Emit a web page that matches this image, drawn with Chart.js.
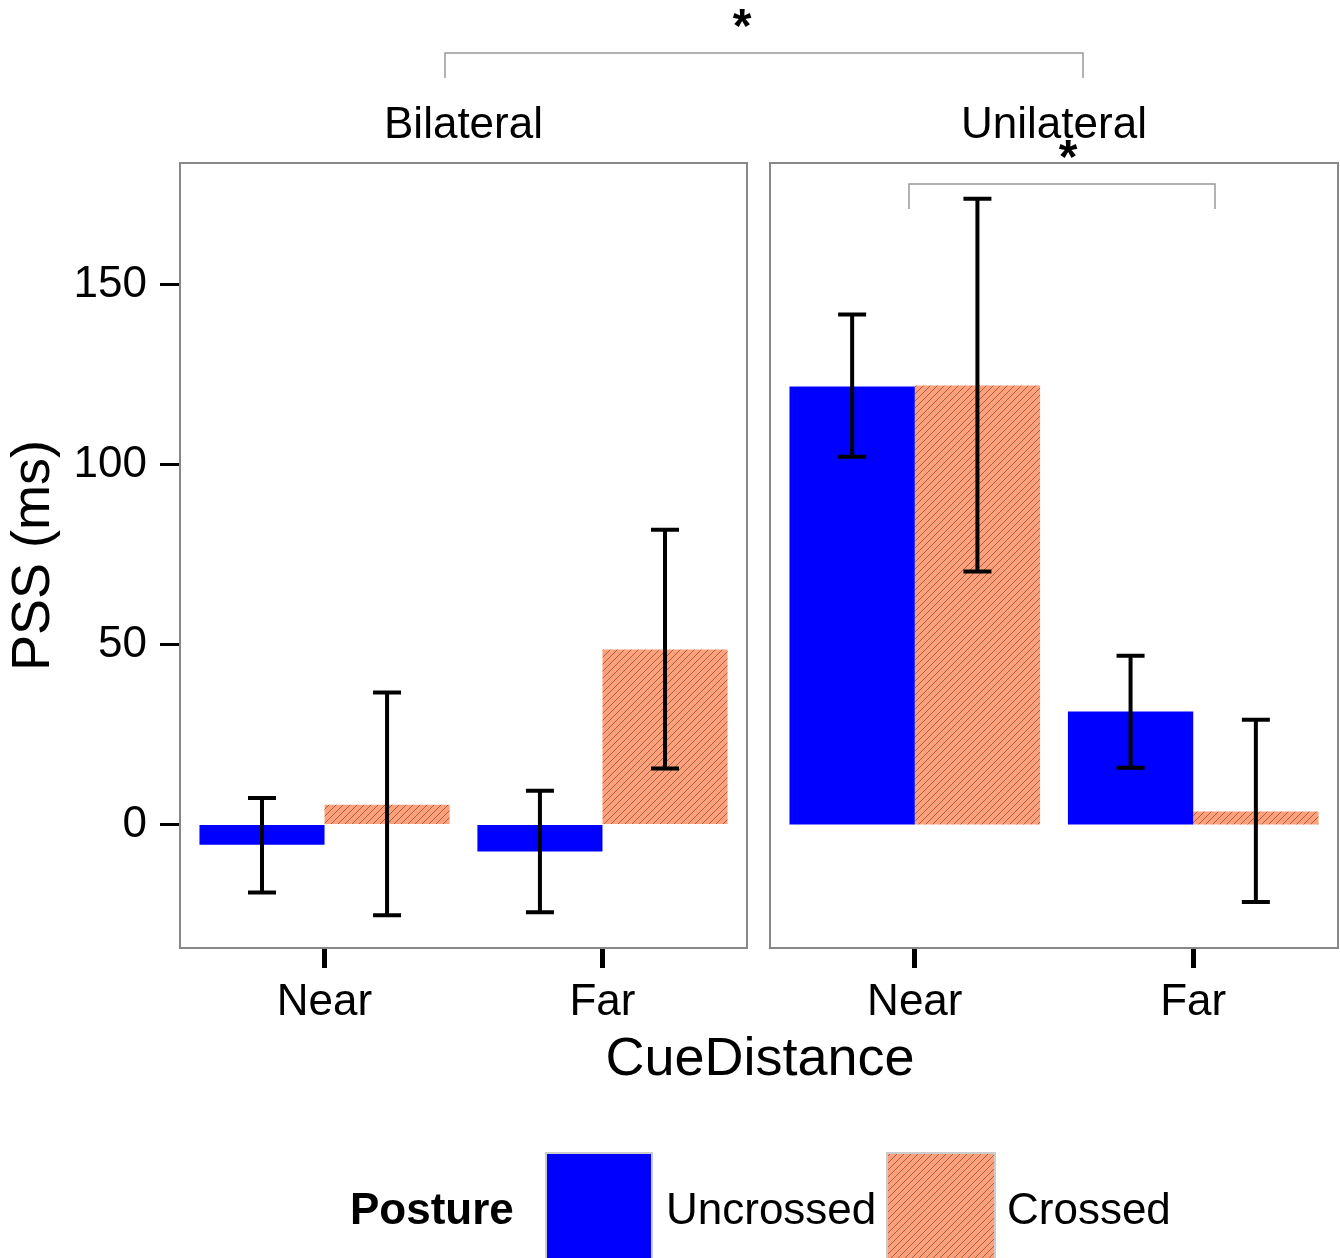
<!DOCTYPE html>
<html>
<head>
<meta charset="utf-8">
<script src="https://cdn.jsdelivr.net/npm/chart.js@4"></script>
<style>
  body { margin: 0; background: #fff; }
  #wrap { position: relative; width: 1340px; height: 1258px; }
  #wrap canvas { position: absolute; left: 0; top: 0; }
</style>
</head>
<body>
<div id="wrap">
  <canvas id="left" width="1340" height="1258"></canvas>
  <canvas id="right" width="1340" height="1258"></canvas>
</div>
<script>
// data
const panels = ['Bilateral', 'Unilateral'];
const distances = ['Near', 'Far'];
const postures = ['Uncrossed', 'Crossed'];

const bilateralUncrossed = [-5.6, -7.5];
const bilateralCrossed = [5.5, 48.6];
const unilateralUncrossed = [121.7, 31.4];
const unilateralCrossed = [122.0, 3.6];

// [low, high] of the error bars
const bilateralUncrossedErr = [[-18.9, 7.4], [-24.4, 9.4]];
const bilateralCrossedErr = [[-25.2, 36.7], [15.6, 81.9]];
const unilateralUncrossedErr = [[102.2, 141.7], [15.8, 46.9]];
const unilateralCrossedErr = [[70.3, 173.9], [-21.5, 29.1]];

const yTicks = [0, 50, 100, 150];
const yMin = -34.3;
const yMax = 183.8;

const FONT = "'Liberation Sans', Arial, Helvetica, sans-serif";
const BLUE = '#0000FF';
const SALMON = '#FFA07A';

function makeHatch() {
    const c = document.createElement('canvas');
    c.width = 7; c.height = 7;
    const g = c.getContext('2d');
    g.fillStyle = SALMON;
    g.fillRect(0, 0, 7, 7);
    g.strokeStyle = 'rgba(70,50,40,0.6)';
    g.lineWidth = 0.9;
    g.beginPath();
    g.moveTo(0, 7); g.lineTo(7, 0);
    g.moveTo(-1, 1); g.lineTo(1, -1);
    g.moveTo(6, 8); g.lineTo(8, 6);
    g.stroke();
    return document.getElementById('left').getContext('2d').createPattern(c, 'repeat');
}
const hatch = makeHatch();

// error bars + panel frame + strip label
const panelPlugin = {
    id: 'panel',
    afterDatasetsDraw(chart, args, opts) {
        const ctx = chart.ctx;
        const ya = chart.scales.y;
        const a = chart.chartArea;
        ctx.save();
        ctx.strokeStyle = '#000';
        ctx.lineWidth = 4;
        chart.data.datasets.forEach((ds, i) => {
            const meta = chart.getDatasetMeta(i);
            meta.data.forEach((el, j) => {
                const [lo, hi] = ds.err[j];
                const x = el.x;
                const y1 = ya.getPixelForValue(lo);
                const y2 = ya.getPixelForValue(hi);
                ctx.beginPath();
                ctx.moveTo(x, y1); ctx.lineTo(x, y2);
                ctx.moveTo(x - 14, y1); ctx.lineTo(x + 14, y1);
                ctx.moveTo(x - 14, y2); ctx.lineTo(x + 14, y2);
                ctx.stroke();
            });
        });
        ctx.strokeStyle = '#888';
        ctx.lineWidth = 2;
        ctx.strokeRect(a.left, a.top, a.right - a.left, a.bottom - a.top);

        ctx.fillStyle = '#000';
        ctx.font = '44px ' + FONT;
        ctx.textAlign = 'center';
        ctx.textBaseline = 'alphabetic';
        ctx.fillText(opts.strip, (a.left + a.right) / 2, 138);

        if (opts.brackets) {
            ctx.strokeStyle = '#999';
            ctx.lineWidth = 1.5;
            opts.brackets.forEach(b => {
                ctx.beginPath();
                ctx.moveTo(b.x1, b.y + b.h); ctx.lineTo(b.x1, b.y);
                ctx.lineTo(b.x2, b.y); ctx.lineTo(b.x2, b.y + b.h);
                ctx.stroke();
                ctx.font = 'bold 48px ' + FONT;
                ctx.fillText('*', b.star, b.y - 11);
            });
        }
        ctx.restore();
    }
};

// x title and legend, drawn once across the page
const pagePlugin = {
    id: 'page',
    afterDraw(chart) {
        const ctx = chart.ctx;
        ctx.save();
        ctx.fillStyle = '#000';
        ctx.textBaseline = 'alphabetic';
        ctx.textAlign = 'center';
        ctx.font = '54px ' + FONT;
        ctx.fillText('CueDistance', 760, 1075);

        ctx.textAlign = 'left';
        ctx.font = 'bold 44px ' + FONT;
        ctx.fillText('Posture', 350, 1224);

        ctx.fillStyle = BLUE;
        ctx.fillRect(546, 1153, 106, 106);
        ctx.fillStyle = hatch;
        ctx.fillRect(887, 1153, 108, 106);
        ctx.strokeStyle = '#ccc';
        ctx.lineWidth = 2;
        ctx.strokeRect(546, 1153, 106, 106);
        ctx.strokeRect(887, 1153, 108, 106);

        ctx.fillStyle = '#000';
        ctx.font = '44px ' + FONT;
        ctx.fillText(postures[0], 666, 1224);
        ctx.fillText(postures[1], 1007, 1224);
        ctx.restore();
    }
};

function buildChart(id, uncrossed, crossed, uncErr, crErr, opts) {
    const toXY = vals => vals.map((v, i) => ({ x: i, y: v }));
    return new Chart(document.getElementById(id), {
        type: 'bar',
        data: {
            datasets: [
                { label: postures[0], data: toXY(uncrossed), err: uncErr, backgroundColor: BLUE, borderWidth: 0 },
                { label: postures[1], data: toXY(crossed), err: crErr, backgroundColor: hatch, borderWidth: 0 }
            ]
        },
        plugins: opts.page ? [panelPlugin, pagePlugin] : [panelPlugin],
        options: {
            responsive: false,
            animation: false,
            devicePixelRatio: 1,
            layout: { padding: { left: opts.padLeft, right: opts.padRight, top: 163, bottom: 218 } },
            datasets: { bar: { categoryPercentage: 0.9, barPercentage: 1 } },
            plugins: {
                legend: { display: false },
                tooltip: { enabled: false },
                panel: { strip: opts.strip, brackets: opts.brackets }
            },
            scales: {
                x: {
                    type: 'linear',
                    min: -0.52,
                    max: 1.52,
                    offset: false,
                    afterBuildTicks: s => { s.ticks = distances.map((d, i) => ({ value: i })); },
                    afterFit: s => { s.height = 92; },
                    grid: { offset: false, drawOnChartArea: false, tickLength: 20, tickWidth: 5, tickColor: '#000' },
                    border: { display: false },
                    ticks: { color: '#000', font: { size: 44, family: FONT }, padding: 8, callback: v => distances[v] }
                },
                y: {
                    display: opts.showY,
                    min: yMin,
                    max: yMax,
                    afterBuildTicks: s => { s.ticks = yTicks.map(v => ({ value: v })); },
                    afterFit: s => { s.width = opts.showY ? 180 : 0; },
                    grid: { drawOnChartArea: false, tickLength: 20, tickWidth: 3, tickColor: '#000' },
                    border: { display: false },
                    ticks: { color: '#000', font: { size: 44, family: FONT }, padding: 13 },
                    title: { display: true, text: 'PSS (ms)', color: '#000', font: { size: 54, family: FONT }, padding: { top: 2, bottom: 0 } }
                }
            }
        }
    });
}

buildChart('left', bilateralUncrossed, bilateralCrossed, bilateralUncrossedErr, bilateralCrossedErr, {
    padLeft: 0, padRight: 593, showY: true, strip: panels[0], page: true,
    brackets: [{ x1: 445, x2: 1083, y: 53, h: 25, star: 742 }]
});
buildChart('right', unilateralUncrossed, unilateralCrossed, unilateralUncrossedErr, unilateralCrossedErr, {
    padLeft: 770, padRight: 2, showY: false, strip: panels[1],
    brackets: [{ x1: 909, x2: 1215, y: 184, h: 25, star: 1068 }]
});
</script>
</body>
</html>
